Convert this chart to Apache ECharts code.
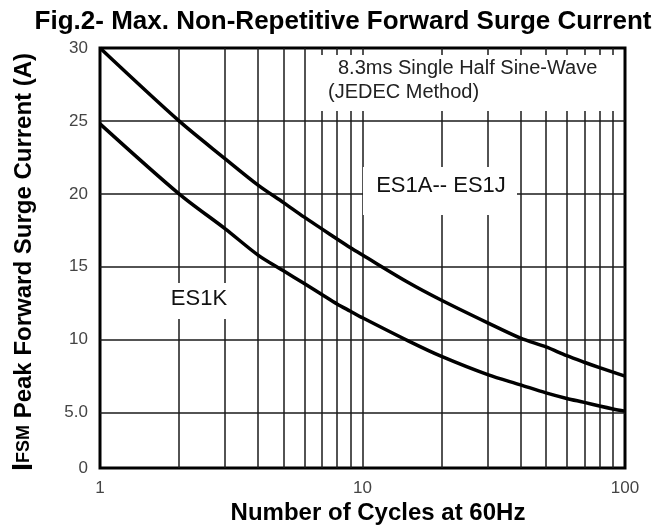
<!DOCTYPE html>
<html><head><meta charset="utf-8">
<script src="https://cdn.jsdelivr.net/npm/echarts@6/dist/echarts.min.js"></script>
<style>html,body{margin:0;padding:0;background:#fff}#c{width:668px;height:528px}</style>
</head><body><div id="c"></div>
<script>
// Data
const cycles = [1,2,3,4,5,6,7,8,9,10,15,20,30,40,50,60,70,80,90,100];
const es1aToEs1j = [30,25,22.4,20.6,19.4,18.4,17.6,16.9,16.3,15.8,13.9,12.7,11.15,10.1,9.5,8.9,8.45,8.08,7.77,7.5];
const es1k = [24.8,20,17.6,15.8,14.72,13.85,13.1,12.45,11.95,11.5,9.9,8.85,7.6,6.9,6.35,5.97,5.7,5.45,5.25,5.1];
const yBottom = 1.2;               // bottom of the axis, labelled "0"
const yTickValues = [yBottom,5,10,15,20,25,30];
const yGridValues = [5,10,15,20,25];
const xGridValues = [2,3,4,5,6,7,8,9,10,20,30,40,50,60,70,80,90];

const chart = echarts.init(document.getElementById('c'), null, {renderer:'canvas'});
const FONT = 'Liberation Sans, Arial, sans-serif';

function pairs(xs, ys){ return xs.map((x,i)=>[x, ys[i]]); }

const gridLine = {color:'#1a1a1a', width:1.5, type:'solid'};

chart.setOption({
  animation:false,
  backgroundColor:'#fff',
  grid:{left:100, right:43, top:48, bottom:60, show:true, borderColor:'#000', borderWidth:3, backgroundColor:'transparent'},
  xAxis:{type:'log', logBase:10, min:1, max:100,
    axisLine:{show:false}, axisTick:{show:false}, splitLine:{show:false},
    axisLabel:{fontFamily:FONT, fontSize:17, color:'#444', margin:12}},
  yAxis:{type:'value', min:yBottom, max:30,
    axisLine:{show:false}, axisTick:{show:false}, splitLine:{show:false},
    axisLabel:{fontFamily:FONT, fontSize:17, color:'#444', margin:12,
      customValues:yTickValues,
      formatter:v=> Math.abs(v-yBottom)<1e-6 ? '0' : (v===5 ? '5.0' : String(v))}},
  graphic:[
    {type:'text', x:343, y:22, z:10, style:{text:'Fig.2- Max. Non-Repetitive Forward Surge Current', font:'bold 26px '+FONT, fill:'#000', align:'center', verticalAlign:'middle'}},
    {type:'text', x:378, y:513, z:10, style:{text:'Number of Cycles at 60Hz', font:'bold 24px '+FONT, fill:'#000', align:'center', verticalAlign:'middle'}},
    {type:'text', x:24, y:262, rotation:Math.PI/2, z:10, style:{
      text:'{b|I}{s|FSM} Peak Forward Surge Current (A)', align:'center', verticalAlign:'middle',
      font:'bold 24px '+FONT, fill:'#000',
      rich:{b:{font:'bold 29px '+FONT, fill:'#000'}, s:{font:'bold 18px '+FONT, fill:'#000'}}}},
    // annotation boxes (white) hiding the grid
    {type:'rect', shape:{x:310, y:55, width:312, height:56}, z:50, style:{fill:'#fff'}},
    {type:'text', x:338, y:68, z:51, style:{text:'8.3ms Single Half Sine-Wave', font:'20px '+FONT, fill:'#222', verticalAlign:'middle'}},
    {type:'text', x:328, y:92, z:51, style:{text:'(JEDEC Method)', font:'20px '+FONT, fill:'#222', verticalAlign:'middle'}},
    {type:'rect', shape:{x:363, y:167, width:154, height:48}, z:50, style:{fill:'#fff'}},
    {type:'text', x:441, y:186, z:51, style:{text:'ES1A-- ES1J', font:'22px '+FONT, fill:'#111', align:'center', verticalAlign:'middle'}},
    {type:'rect', shape:{x:160, y:283, width:80, height:36}, z:50, style:{fill:'#fff'}},
    {type:'text', x:199, y:299, z:51, style:{text:'ES1K', font:'22px '+FONT, fill:'#111', align:'center', verticalAlign:'middle'}}
  ],
  series:[
    {type:'line', name:'grid', data:[], z:1, silent:true,
      markLine:{silent:true, symbol:['none','none'], label:{show:false}, lineStyle:gridLine, animation:false,
        data:[...yGridValues.map(v=>({yAxis:v})), ...xGridValues.map(v=>({xAxis:v}))]}},
    {type:'line', name:'ES1A-- ES1J', data:pairs(cycles, es1aToEs1j), smooth:0.3, showSymbol:false, z:100, zlevel:1,
      lineStyle:{color:'#000', width:3.5}},
    {type:'line', name:'ES1K', data:pairs(cycles, es1k), smooth:0.3, showSymbol:false, z:100, zlevel:1,
      lineStyle:{color:'#000', width:3.5}}
  ]
});
</script></body></html>
